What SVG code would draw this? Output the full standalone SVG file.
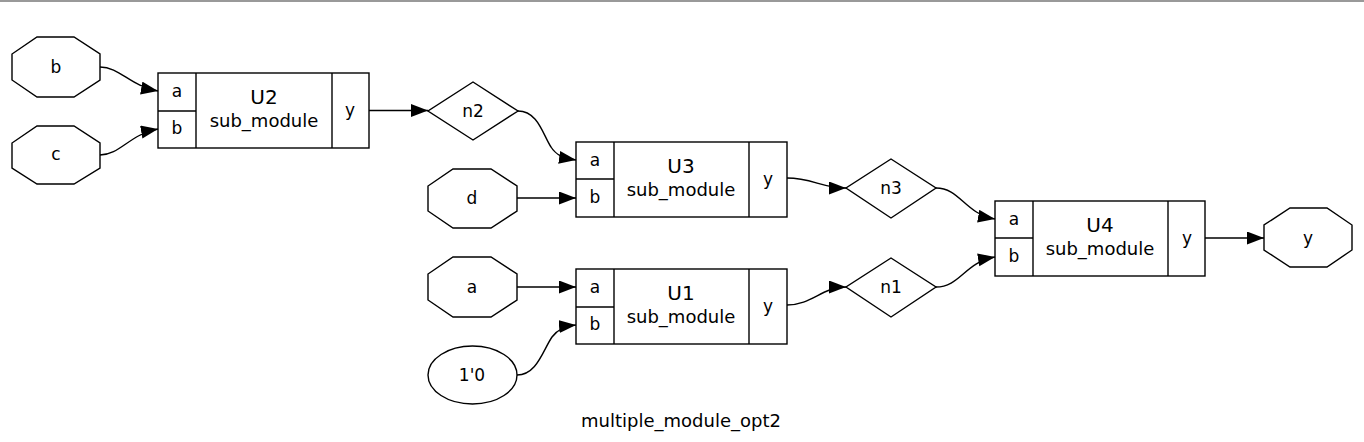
<svg xmlns="http://www.w3.org/2000/svg" width="1364" height="442" viewBox="0 0 1364 442">
<defs>
<style>
.s{fill:#fff;stroke:#000;stroke-width:1.4}
.l{fill:none;stroke:#000;stroke-width:1.4}
.e{fill:none;stroke:#000;stroke-width:1.4;marker-end:url(#ah)}
text{font-family:"DejaVu Sans","Liberation Sans",sans-serif;fill:#000;text-anchor:middle}
.p{font-size:17px}
.u{font-size:20px}
.m{font-size:18px}
.t{font-size:18px}
</style>
<marker id="ah" markerUnits="userSpaceOnUse" markerWidth="18" markerHeight="14" refX="17" refY="6.5" orient="auto">
<path d="M0,0 L17,6.5 L0,13 z" fill="#000"/>
</marker>
</defs>
<rect x="0" y="0" width="1364" height="442" fill="#fff"/>
<rect x="0" y="0" width="1364" height="2" fill="#999"/>

<g id="in_b"><polygon class="s" points="37,37 74,37 100,54 100,80 74,97 37,97 12,80 12,54"/><text class="p" x="56" y="73">b</text></g>
<g id="in_c"><polygon class="s" points="37,126 74,126 100,143 100,168 74,184 37,184 12,168 12,143"/><text class="p" x="56" y="160">c</text></g>
<g id="in_d"><polygon class="s" points="453,169 491,169 517,186 517,211 491,228 453,228 428,211 428,186"/><text class="p" x="472" y="204">d</text></g>
<g id="in_a"><polygon class="s" points="453,257 491,257 517,274 517,300 491,317 453,317 428,300 428,274"/><text class="p" x="472" y="293">a</text></g>
<g id="const"><ellipse class="s" cx="472.5" cy="375" rx="44.5" ry="29"/><text class="p" x="472" y="381">1'0</text></g>
<g id="out_y"><polygon class="s" points="1290,208 1327,208 1352,225 1352,250 1327,267 1290,267 1264,250 1264,225"/><text class="p" x="1308" y="244">y</text></g>

<g id="n2"><polygon class="s" points="473,82 518,111 473,140 428,111"/><text class="p" x="473" y="117">n2</text></g>
<g id="n3"><polygon class="s" points="891,159 936,188 891,218 846,188"/><text class="p" x="891" y="194">n3</text></g>
<g id="n1"><polygon class="s" points="891,258 936,287 891,317 846,287"/><text class="p" x="891" y="293">n1</text></g>

<g id="U2"><rect class="s" x="158" y="73" width="211" height="75"/><line class="l" x1="196" y1="73" x2="196" y2="148"/><line class="l" x1="158" y1="111" x2="196" y2="111"/><line class="l" x1="332" y1="73" x2="332" y2="148"/>
<text class="p" x="177" y="97">a</text><text class="p" x="177" y="134">b</text><text class="u" x="264" y="104">U2</text><text class="m" x="264" y="127">sub_module</text><text class="p" x="350" y="116">y</text></g>
<g id="U3"><rect class="s" x="576" y="142" width="211" height="75"/><line class="l" x1="614" y1="142" x2="614" y2="217"/><line class="l" x1="576" y1="179" x2="614" y2="179"/><line class="l" x1="749" y1="142" x2="749" y2="217"/>
<text class="p" x="595" y="166">a</text><text class="p" x="595" y="203">b</text><text class="u" x="681" y="173">U3</text><text class="m" x="681" y="196">sub_module</text><text class="p" x="768" y="185">y</text></g>
<g id="U1"><rect class="s" x="576" y="269" width="211" height="75"/><line class="l" x1="614" y1="269" x2="614" y2="344"/><line class="l" x1="576" y1="307" x2="614" y2="307"/><line class="l" x1="749" y1="269" x2="749" y2="344"/>
<text class="p" x="595" y="293">a</text><text class="p" x="595" y="330">b</text><text class="u" x="681" y="300">U1</text><text class="m" x="681" y="323">sub_module</text><text class="p" x="768" y="312">y</text></g>
<g id="U4"><rect class="s" x="995" y="201" width="210" height="75"/><line class="l" x1="1033" y1="201" x2="1033" y2="276"/><line class="l" x1="995" y1="238" x2="1033" y2="238"/><line class="l" x1="1168" y1="201" x2="1168" y2="276"/>
<text class="p" x="1014" y="225">a</text><text class="p" x="1014" y="262">b</text><text class="u" x="1100" y="232">U4</text><text class="m" x="1100" y="255">sub_module</text><text class="p" x="1187" y="244">y</text></g>

<g id="connectors">
<path class="e" d="M100,67 C120,67 130,86 158,91"/>
<path class="e" d="M100,155 C120,155 130,134 158,129"/>
<path class="e" d="M369,110.5 L428,110.5"/>
<path class="e" d="M518,111 C538,111 543,135 551,147 C556,155 563,158 576,160"/>
<path class="e" d="M517,198 L576,198"/>
<path class="e" d="M517,287 L576,287"/>
<path class="e" d="M517,375 C537,375 543,350 552,337 C558,329 565,326 576,325"/>
<path class="e" d="M787,178 C812,178 822,188 846,188"/>
<path class="e" d="M787,305 C812,305 822,287 846,287"/>
<path class="e" d="M936,188 C960,188 965,214 995,219"/>
<path class="e" d="M936,287 C960,287 965,262 995,257"/>
<path class="e" d="M1205,238 L1264,238"/>
</g>

<g id="title"><text class="t" x="681" y="427">multiple_module_opt2</text></g>
</svg>
